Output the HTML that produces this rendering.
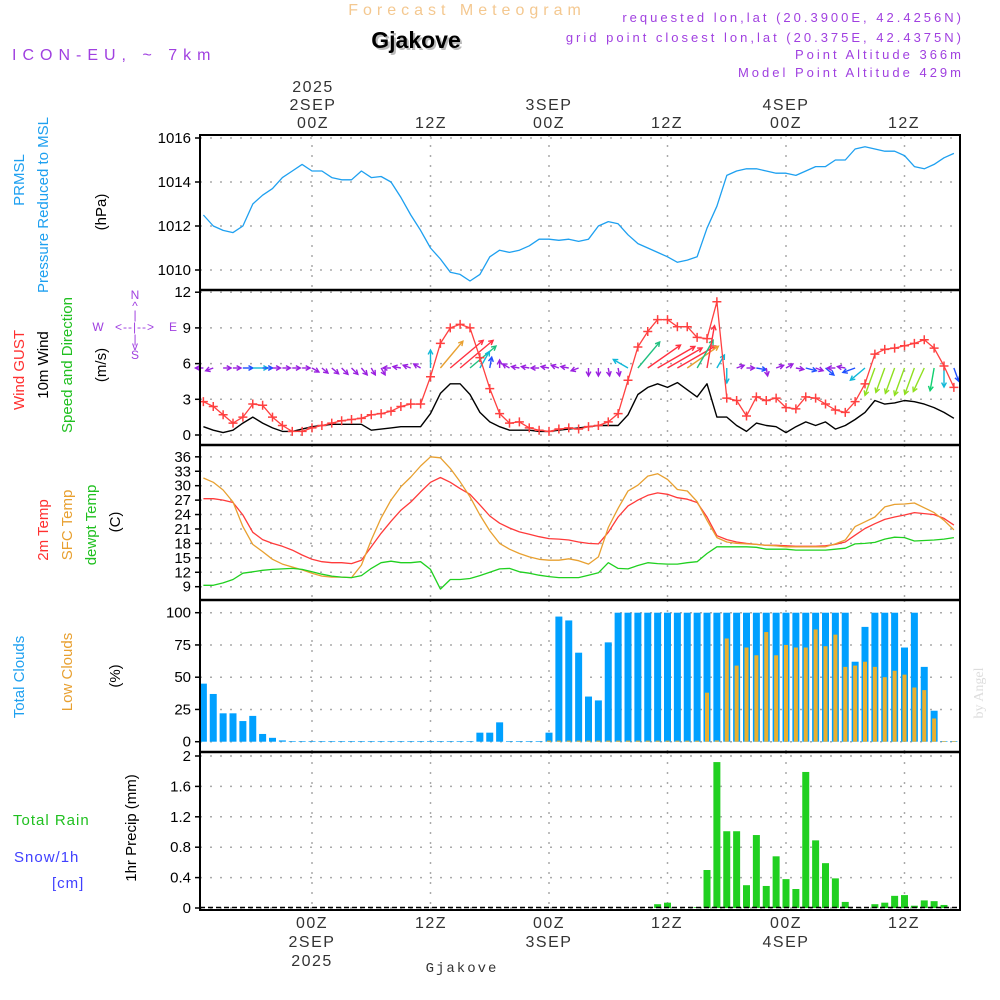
<!DOCTYPE html>
<html><head><meta charset="utf-8"><title>Gjakove Meteogram</title>
<style>
html,body{margin:0;padding:0;background:#fff;}
svg{display:block;font-family:"Liberation Sans",sans-serif;}
</style></head>
<body>
<svg id="chart" width="1000" height="1000" viewBox="0 0 1000 1000" xmlns="http://www.w3.org/2000/svg">
<rect width="1000" height="1000" fill="#fff"/>
<g id="grid"></g>
<g id="marks"></g>
<g id="frame"></g>
<g id="labels">
 <text x="467" y="15" text-anchor="middle" font-size="16" fill="#f4c890" letter-spacing="5">Forecast Meteogram</text>
 <text x="418" y="50" text-anchor="middle" font-size="23" font-weight="bold" fill="#bbb">Gjakove</text>
 <text x="416" y="48" text-anchor="middle" font-size="23" font-weight="bold" fill="#000">Gjakove</text>
 <text x="12" y="60" font-size="16" fill="#a040e0" letter-spacing="6">ICON-EU, ~ 7km</text>
 <g font-size="13" fill="#a040e0" text-anchor="end" letter-spacing="3">
  <text x="964" y="22">requested lon,lat (20.3900E, 42.4256N)</text>
  <text x="964" y="42">grid point closest lon,lat (20.375E, 42.4375N)</text>
  <text x="964" y="59">Point Altitude 366m</text>
  <text x="964" y="77">Model Point Altitude 429m</text>
 </g>
 <g font-size="16" fill="#333" text-anchor="middle" letter-spacing="1.5">
  <text x="313" y="92">2025</text>
  <text x="313" y="110">2SEP</text>
  <text x="313" y="128">00Z</text>
  <text x="431" y="128">12Z</text>
  <text x="549" y="110">3SEP</text>
  <text x="549" y="128">00Z</text>
  <text x="667" y="128">12Z</text>
  <text x="786" y="110">4SEP</text>
  <text x="786" y="128">00Z</text>
  <text x="904" y="128">12Z</text>
  <text x="312" y="928">00Z</text>
  <text x="312" y="947">2SEP</text>
  <text x="312" y="966">2025</text>
  <text x="431" y="928">12Z</text>
  <text x="549" y="928">00Z</text>
  <text x="549" y="947">3SEP</text>
  <text x="667" y="928">12Z</text>
  <text x="786" y="928">00Z</text>
  <text x="786" y="947">4SEP</text>
  <text x="904" y="928">12Z</text>
 </g>
 <text x="462" y="972" text-anchor="middle" font-size="14" fill="#333" letter-spacing="2" font-family="Liberation Mono, monospace">Gjakove</text>
 <g font-size="15">
  <text transform="translate(24,180) rotate(-90)" text-anchor="middle" fill="#1ea0f0">PRMSL</text>
  <text transform="translate(48,205) rotate(-90)" text-anchor="middle" fill="#1ea0f0">Pressure Reduced to MSL</text>
  <text transform="translate(106,212) rotate(-90)" text-anchor="middle" fill="#000">(hPa)</text>
  <text transform="translate(24,370) rotate(-90)" text-anchor="middle" fill="#ff3030">Wind GUST</text>
  <text transform="translate(48,365) rotate(-90)" text-anchor="middle" fill="#000">10m Wind</text>
  <text transform="translate(72,365) rotate(-90)" text-anchor="middle" fill="#20c020">Speed and Direction</text>
  <text transform="translate(106,365) rotate(-90)" text-anchor="middle" fill="#000">(m/s)</text>
  <text transform="translate(48,530) rotate(-90)" text-anchor="middle" fill="#ff3030">2m Temp</text>
  <text transform="translate(72,525) rotate(-90)" text-anchor="middle" fill="#e8a030">SFC Temp</text>
  <text transform="translate(96,525) rotate(-90)" text-anchor="middle" fill="#20c020">dewpt Temp</text>
  <text transform="translate(120,522) rotate(-90)" text-anchor="middle" fill="#000">(C)</text>
  <text transform="translate(24,677) rotate(-90)" text-anchor="middle" fill="#1ea0f0">Total Clouds</text>
  <text transform="translate(72,672) rotate(-90)" text-anchor="middle" fill="#e8a030">Low Clouds</text>
  <text transform="translate(120,676) rotate(-90)" text-anchor="middle" fill="#000">(%)</text>
  <text transform="translate(136,828) rotate(-90)" text-anchor="middle" fill="#000">1hr Precip (mm)</text>
  <text x="13" y="825" fill="#20c020" letter-spacing="1">Total  Rain</text>
  <text x="14" y="862" fill="#4040ff" letter-spacing="1">Snow/1h</text>
  <text x="52" y="888" fill="#4040ff" letter-spacing="1">[cm]</text>
 </g>
 <text transform="translate(983,693) rotate(-90)" text-anchor="middle" font-size="14" fill="#ddd" font-family="Liberation Serif, serif">by Angel</text>
 <g fill="#a040e0" font-size="12" text-anchor="middle">
  <text x="135" y="299">N</text>
  <text x="135" y="310">^</text>
  <text x="135" y="319">|</text>
  <text x="98" y="331">W</text>
  <text x="135" y="331" letter-spacing="1">&lt;--|--&gt;</text>
  <text x="173" y="331">E</text>
  <text x="135" y="343">|</text>
  <text x="135" y="350">v</text>
  <text x="135" y="359">S</text>
 </g>
</g>
</svg>
<script>
// hours relative to 00Z 2SEP
const hours = [];
for (let h = -11; h <= 65; h++) hours.push(h);

const pressure = [1012.5,1012.0,1011.8,1011.7,1012.0,1013.0,1013.4,1013.7,1014.2,1014.5,1014.8,
 1014.5,1014.5,1014.2,1014.1,1014.1,1014.5,1014.2,1014.25,1014.0,1013.3,1012.5,1011.8,
 1011.0,1010.5,1009.9,1009.8,1009.5,1009.8,1010.6,1010.9,1010.8,1010.9,1011.1,1011.4,
 1011.4,1011.35,1011.4,1011.3,1011.4,1012.0,1012.2,1012.1,1011.6,1011.2,1011.0,1010.8,
 1010.6,1010.35,1010.45,1010.6,1011.9,1012.9,1014.3,1014.5,1014.6,1014.6,1014.5,1014.4,
 1014.4,1014.3,1014.5,1014.7,1014.7,1015.0,1015.0,1015.5,1015.6,1015.5,1015.4,1015.4,
 1015.2,1014.7,1014.6,1014.8,1015.1,1015.3];

const gust = [2.8,2.4,1.7,1.0,1.5,2.6,2.5,1.5,0.8,0.3,0.3,
 0.6,0.8,1.0,1.2,1.3,1.4,1.7,1.8,2.0,2.4,2.6,2.6,
 4.9,7.7,9.0,9.3,9.0,6.5,3.9,1.8,1.0,1.1,0.6,0.4,
 0.3,0.5,0.6,0.5,0.7,0.8,1.1,1.8,4.6,7.4,8.7,9.7,
 9.7,9.1,9.1,8.2,8.1,11.2,3.1,2.9,1.6,3.2,2.9,3.1,
 2.3,2.2,3.2,3.1,2.6,2.1,1.9,2.8,4.3,6.8,7.2,7.3,
 7.5,7.7,8.0,7.3,5.8,4.0];

const wind = [0.7,0.4,0.2,0.4,1.0,1.5,1.0,0.6,0.3,0.3,0.5,
 0.7,0.8,0.9,0.9,0.9,0.9,0.4,0.5,0.6,0.7,0.7,0.7,
 1.8,3.5,4.3,4.3,3.4,1.9,1.1,0.7,0.4,0.4,0.4,0.3,
 0.3,0.4,0.5,0.6,0.7,0.8,0.8,0.8,1.7,3.4,4.0,4.3,
 4.0,4.4,3.8,3.2,4.3,1.5,1.5,0.8,0.3,1.0,0.8,0.7,
 0.2,0.7,1.1,0.8,1.1,0.5,0.8,1.3,1.9,2.9,2.6,2.7,
 2.9,2.8,2.6,2.3,1.9,1.4];

const windDir = [180,200,0,0,0,0,0,0,0,0,0,
 -30,-40,-40,-45,-45,-50,-60,-60,180,170,160,150,
 90,50,40,40,40,60,80,90,150,170,170,180,
 170,160,170,200,-90,-90,-80,-80,150,50,35,30,
 30,30,35,60,80,60,-90,20,0,-10,-80,20,
 30,-10,-15,-20,-40,180,170,200,220,-110,-110,-110,
 -110,-110,-115,-100,-90,-70];

const temp2m = [27.3,27.3,27.0,26.5,23.9,20.3,18.8,18.0,17.4,16.6,15.6,
 14.7,14.2,14.0,14.0,13.8,14.5,17.3,20.1,22.6,24.9,26.6,28.7,
 30.7,31.7,30.7,29.4,28.2,26.0,23.7,22.2,21.2,20.4,19.9,19.4,
 19.0,18.9,18.7,18.3,18.0,17.9,20.3,23.5,25.8,27.0,28.0,28.5,
 28.2,27.5,27.2,26.5,23.5,19.6,18.8,18.3,18.0,17.8,17.6,17.6,
 17.5,17.4,17.4,17.4,17.5,17.8,18.3,19.7,21.1,22.1,23.0,23.5,
 23.9,24.4,24.2,24.0,23.2,21.8];

const tempSfc = [31.6,30.7,29.1,26.6,21.5,17.8,16.3,14.7,13.7,13.1,12.5,
 11.8,11.2,11.0,11.0,10.9,13.5,18.7,23.3,27.0,29.8,31.8,34.1,
 36.0,35.8,33.6,30.8,27.7,23.9,20.6,18.0,16.8,15.9,15.2,14.7,
 14.5,14.5,14.8,14.4,13.7,15.2,21.3,25.3,28.9,30.1,32.0,32.5,
 31.3,29.2,28.9,26.7,22.8,19.2,18.3,18.0,17.9,17.8,17.6,17.5,
 17.3,17.3,17.3,17.3,17.3,17.9,18.7,21.5,22.5,23.5,25.6,26.1,
 26.2,26.4,25.4,24.4,22.8,20.8];

const dewpt = [9.3,9.3,9.8,10.5,11.8,12.1,12.4,12.6,12.7,12.8,12.6,
 12.1,11.6,11.2,11.0,10.9,11.3,12.8,14.0,14.3,14.0,14.0,14.2,
 12.6,8.5,10.5,10.5,10.7,11.3,12.0,12.7,12.8,12.1,11.8,11.4,
 11.1,10.9,10.9,10.9,11.4,11.9,14.0,12.8,12.7,13.4,14.0,13.8,
 13.7,13.7,14.0,14.2,15.9,17.3,17.3,17.3,17.3,17.2,16.8,16.8,
 16.8,16.6,16.6,16.6,16.6,16.8,17.0,17.9,18.0,18.2,18.9,19.3,
 19.2,18.5,18.6,18.7,18.9,19.2];

const totalClouds = [45,37,22,22,16,20,6,3,1,0.5,0.5,
 0.5,0.5,0.5,0.5,0.5,0.5,0.5,0.5,0.5,0.5,0.5,0.5,
 0.5,0.5,0.5,0.5,0.5,7,7,15,0.5,0.5,0.5,0.5,
 7,97,94,69,35,32,77,100,100,100,100,100,
 100,100,100,100,100,100,100,100,100,100,100,100,
 100,100,100,100,100,100,100,62,89,100,100,100,
 73,100,58,24,0.5,0.5];

const lowClouds = [0,0,0,0,0,0,0,0,0,0,0,
 0,0,0,0,0,0,0,0,0,0,0,0,
 0,0,0,0,0,0,0,0,0,0,0,0,
 0.8,0.8,0.8,0.8,0.8,0.8,0.8,0.8,0.8,0.8,0.8,0.8,
 0.8,0.8,0.8,0.8,38,1,80,59,73,67,85,67,
 75,73,73,87,74,83,58,59,62,58,50,55,
 52,42,40,18,0.5,0.5];

const precip = [0,0,0,0,0,0,0,0,0,0,0,
 0,0,0,0,0,0,0,0,0,0,0,0,
 0,0,0,0,0,0,0,0,0,0,0,0,
 0,0,0,0,0,0,0,0,0,0,0,0.05,
 0.07,0,0,0.01,0.5,1.92,1.01,1.01,0.30,0.96,0.29,0.68,
 0.38,0.25,1.79,0.89,0.59,0.39,0.08,0,0,0.05,0.07,0.16,
 0.17,0.03,0.10,0.09,0.04,0];

const pressureTicks = [1010,1012,1014,1016];
const windTicks = [0,3,6,9,12];
const tempTicks = [9,12,15,18,21,24,27,30,33,36];
const cloudTicks = [0,25,50,75,100];
const precipTicks = ["0","0.4","0.8","1.2","1.6","2"];
const timeGrid = [0,12,24,36,48,60];

const NS = "http://www.w3.org/2000/svg";
const X0 = 200, X1 = 960;
const xH = h => 312 + h * 9.875;
const yP = p => 270 - (p - 1010) * 22;
const yW = v => 435 - v * 11.9;
const yT = t => 586.7 - (t - 9) * 4.81;
const yC = c => 741.7 - c * 1.29;
const yR = r => 908 - r * 76;

function el(tag, attrs, parent) {
  const e = document.createElementNS(NS, tag);
  for (const k in attrs) e.setAttribute(k, attrs[k]);
  parent.appendChild(e);
  return e;
}
const grid = document.getElementById('grid');
const marks = document.getElementById('marks');
const frame = document.getElementById('frame');
const labels = document.getElementById('labels');

const panels = [
  {top:135, bot:290, ticks:pressureTicks, f:yP, name:'pressure'},
  {top:290, bot:445, ticks:windTicks, f:yW, name:'wind'},
  {top:445, bot:600, ticks:tempTicks, f:yT, name:'temp'},
  {top:600, bot:752, ticks:cloudTicks, f:yC, name:'clouds'},
  {top:752, bot:910, ticks:precipTicks, f:v => yR(parseFloat(v)), name:'precip'}
];
panels.forEach(p => {
  p.ticks.forEach(t => {
    const y = p.f(typeof t === 'string' ? parseFloat(t) : t);
    const g = el('line', {x1:X0, x2:X1, y1:y, y2:y, stroke:'#aaa', 'stroke-width':1.5, 'stroke-dasharray':'2,8'}, grid);
    
    
    const tk = el('line', {x1:X0-5, x2:X0, y1:y, y2:y, stroke:'#000', 'stroke-width':1.5}, frame);
    
    
    const tx = el('text', {x:X0-9, y:y+5, 'text-anchor':'end', 'font-size':15, fill:'#000'}, labels);
    tx.textContent = String(t);
    
    
  });
  timeGrid.forEach(h => {
    const x = xH(h);
    const g = el('line', {x1:x, x2:x, y1:p.top, y2:p.bot, stroke:'#aaa', 'stroke-width':1.5, 'stroke-dasharray':'2,8'}, grid);
    
    
  });
});
const fr = el('rect', {x:X0, y:135, width:X1-X0, height:775, fill:'none', stroke:'#000', 'stroke-width':2}, frame);


[290,445,600,752].forEach(y => {
  const l = el('line', {x1:X0, x2:X1, y1:y, y2:y, stroke:'#000', 'stroke-width':2.5}, frame);
  
  
});

function poly(arr, fy, color, name, w) {
  const pts = arr.map((v, i) => xH(hours[i]).toFixed(1) + ',' + fy(v).toFixed(1)).join(' ');
  const p = el('polyline', {points:pts, fill:'none', stroke:color, 'stroke-width':w || 1.3, 'stroke-linejoin':'round'}, marks);
  
  
  return p;
}
poly(pressure, yP, '#1ea0f0', 'pressure-line');
poly(temp2m, yT, '#ff3a3a', 'temp-2m-line');
poly(tempSfc, yT, '#e8a030', 'sfc-temp-line');
poly(dewpt, yT, '#20d020', 'dewpt-line');

hours.forEach((h, i) => {
  const x = xH(h);
  const c = totalClouds[i];
  const b = el('rect', {x:x-3.5, y:yC(c), width:7, height:yC(0)-yC(c), fill:'#00a0ff'}, marks);
  
  
  const l = lowClouds[i];
  if (l > 0) {
    const o = el('rect', {x:x-2, y:yC(l), width:4, height:yC(0)-yC(l), fill:'#e8b030'}, marks);
    
    
  }
  const r = precip[i];
  if (r > 0) {
    const pb = el('rect', {x:x-3.5, y:yR(r), width:7, height:yR(0)-yR(r), fill:'#20d020'}, marks);
    
    
  }
});
const zl = el('line', {x1:X0, x2:X1, y1:907.5, y2:907.5, stroke:'#000', 'stroke-width':1.5, 'stroke-dasharray':'5,3'}, marks);



poly(wind, yW, '#000', 'wind-speed-line', 1.4);
function windColor(s) {
  if (s < 1) return '#9a20e0';
  if (s < 1.5) return '#2050ff';
  if (s < 2) return '#10b8d8';
  if (s < 2.5) return '#10d070';
  if (s < 3) return '#90e020';
  if (s < 3.5) return '#20c080';
  if (s < 4) return '#e8a030';
  return '#ff3040';
}
hours.forEach((h, i) => {
  const x = xH(h), y = 368;
  const s = wind[i];
  const len = Math.max(8, s * 10);
  const a = windDir[i] * Math.PI / 180;
  const x2 = x + Math.cos(a) * len, y2 = y - Math.sin(a) * len;
  const col = windColor(s);
  const g = el('g', {stroke:col, 'stroke-width':1.4, fill:'none'}, marks);
  
  
  el('line', {x1:x, y1:y, x2:x2, y2:y2}, g);
  const ha = 0.5, hl = 5;
  el('polyline', {points:
    (x2 - Math.cos(a - ha) * hl).toFixed(1) + ',' + (y2 + Math.sin(a - ha) * hl).toFixed(1) + ' ' +
    x2.toFixed(1) + ',' + y2.toFixed(1) + ' ' +
    (x2 - Math.cos(a + ha) * hl).toFixed(1) + ',' + (y2 + Math.sin(a + ha) * hl).toFixed(1)}, g);
});
poly(gust, yW, '#ff4040', 'gust-line', 1.3);
hours.forEach((h, i) => {
  const x = xH(h), y = yW(gust[i]);
  const m = el('path', {d:`M${x-4.5},${y}H${x+4.5}M${x},${y-4.5}V${y+4.5}`, stroke:'#ff4040', 'stroke-width':1.5}, marks);
  
  
});
</script>
</body></html>
